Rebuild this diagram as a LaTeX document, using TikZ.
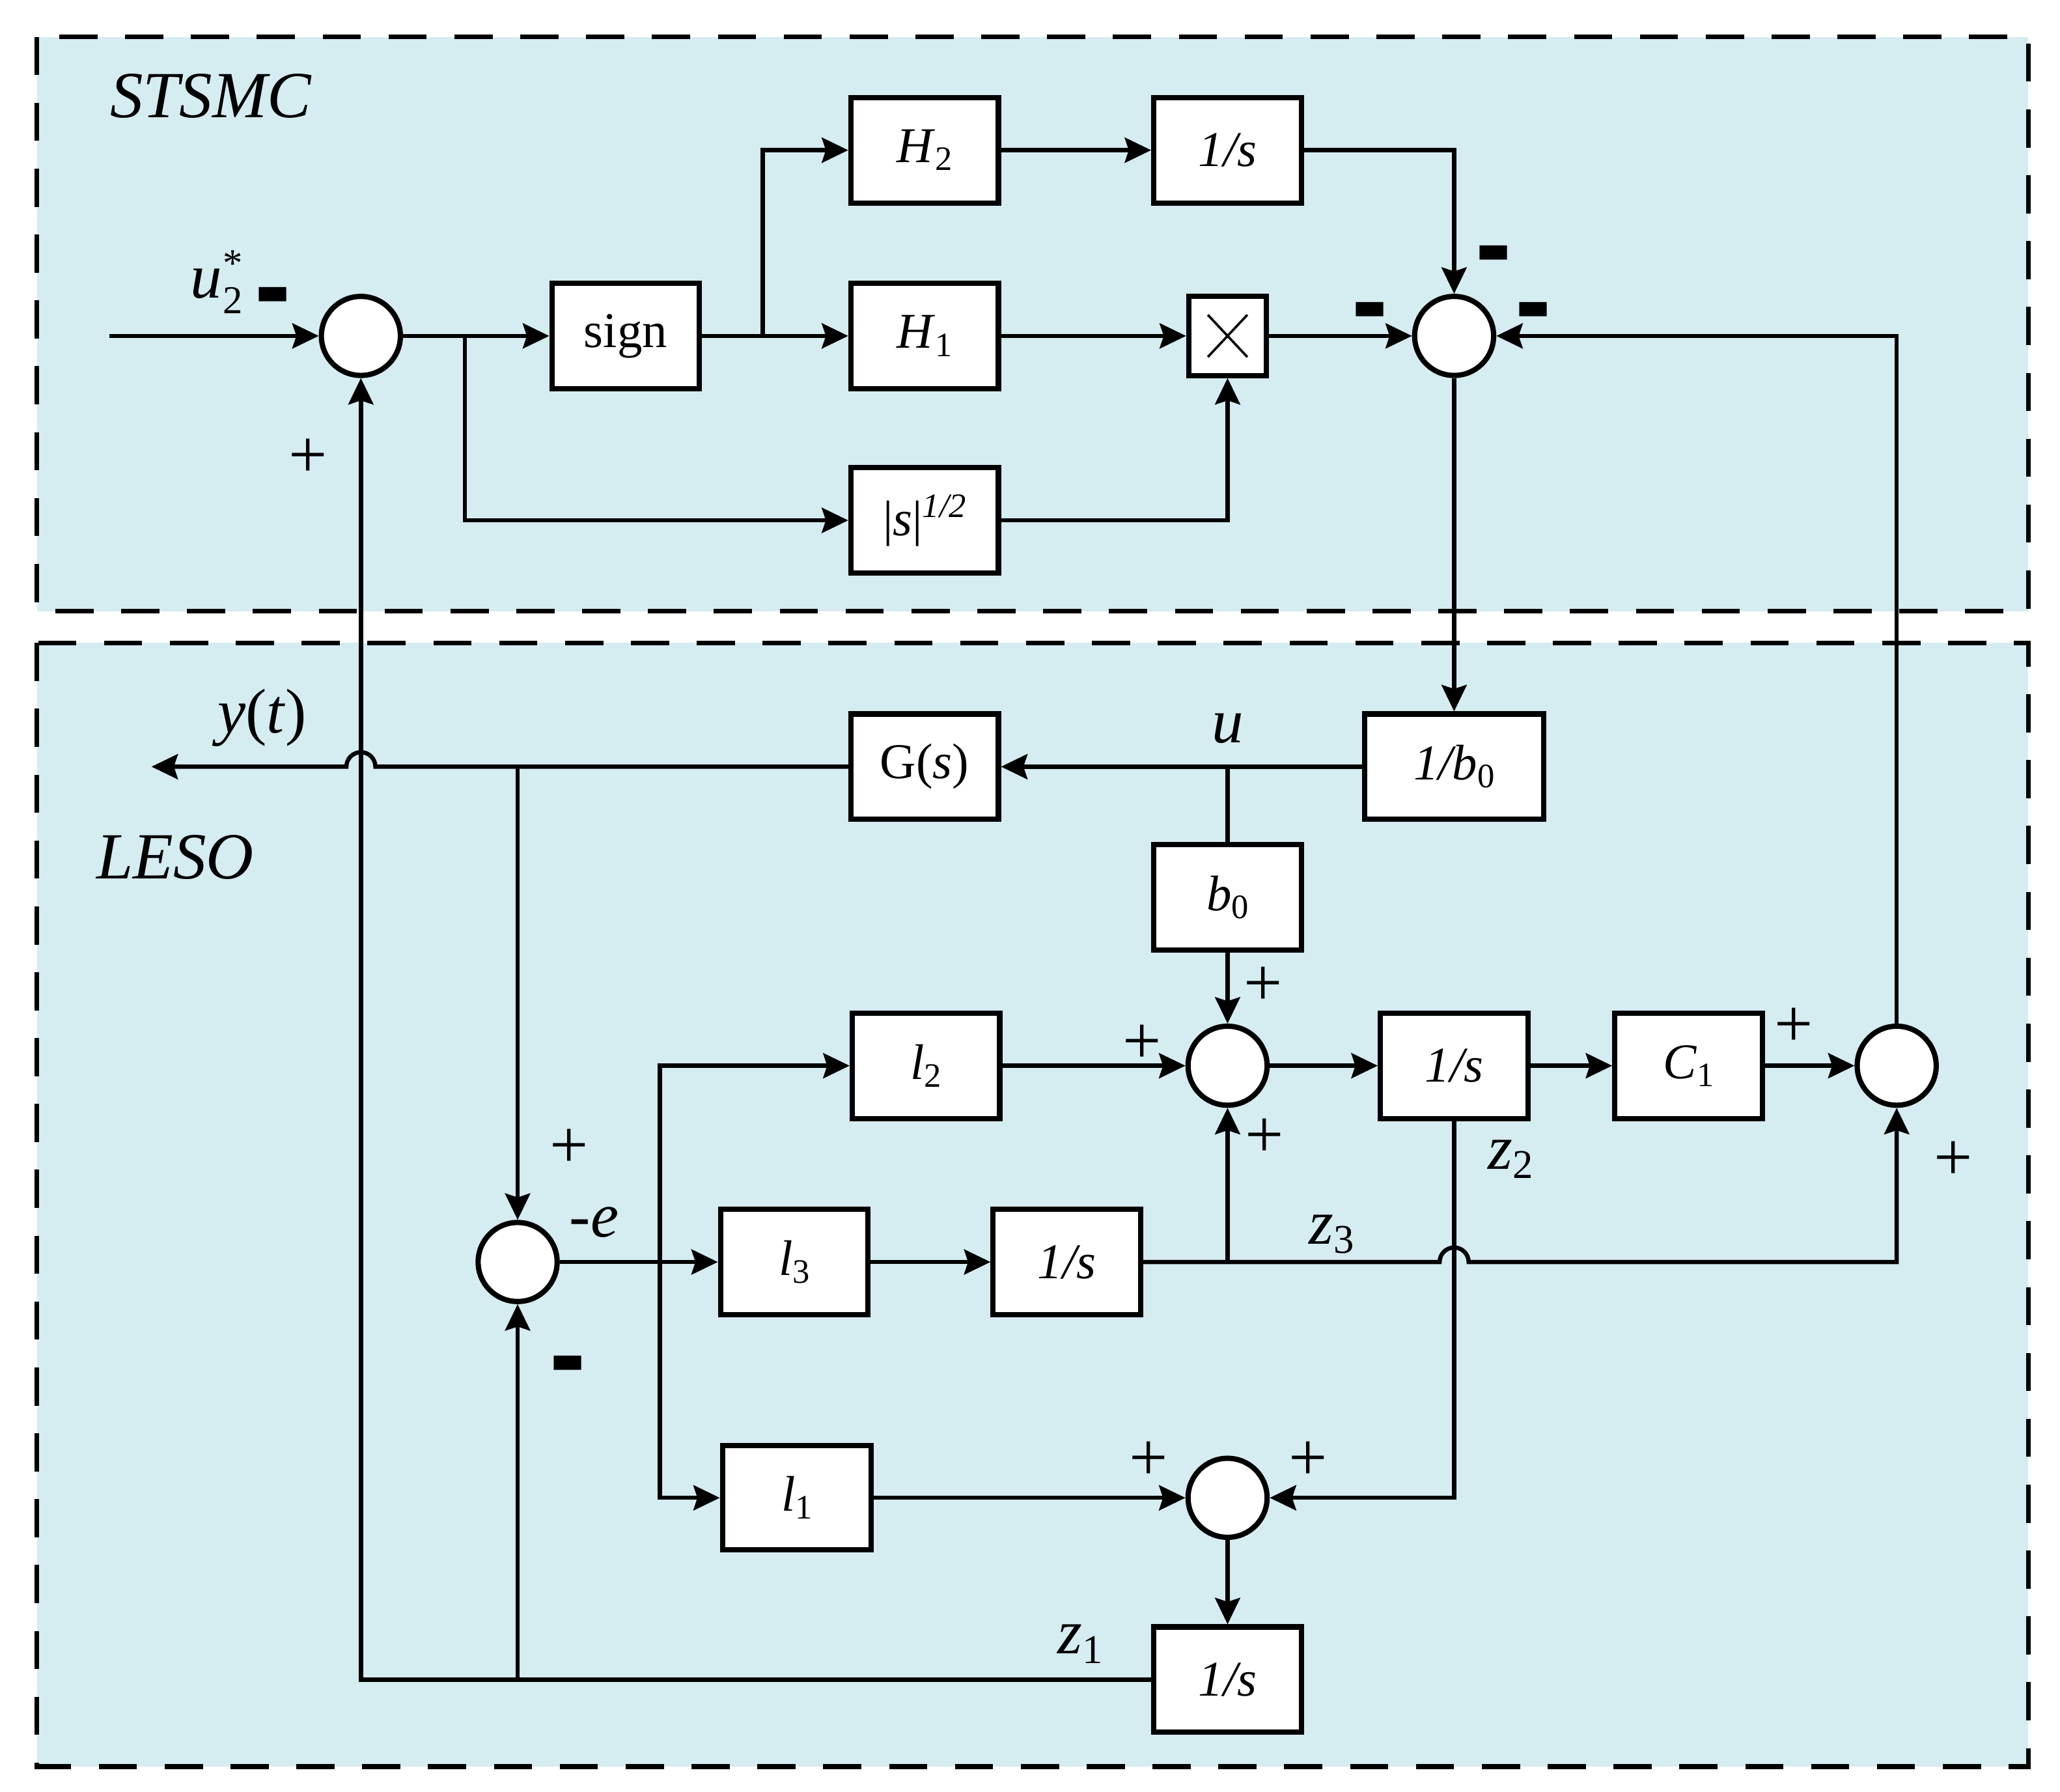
\documentclass[tikz,border=0pt]{standalone}
\usepackage{fontspec}
\setmainfont{Liberation Serif}
\newfontfamily\dvs{DejaVu Sans}
\usepackage{graphicx}
\usetikzlibrary{arrows.meta}
\definecolor{bgblue}{RGB}{213,236,241}
\newcommand{\sbs}[1]{\raisebox{-6pt}{\fontsize{26}{26}\selectfont #1}}
\newcommand{\lsbs}[1]{\raisebox{-7pt}{\fontsize{31}{31}\selectfont #1}}
\newcommand{\bmin}{{\dvs\bfseries\fontsize{40}{40}\selectfont\scalebox{1.7}[1.9]{-}}}
\begin{document}
\begin{tikzpicture}[x=1pt,y=-1pt,
  ln/.style={line width=3.2pt},
  arr/.style={ln,-{Stealth[length=20pt,width=19pt,inset=3pt]}},
  blk/.style={draw,fill=white,line width=4pt,minimum width=112pt,minimum height=80pt,inner sep=0pt,font=\fontsize{38}{40}\selectfont},
  sumc/.style={draw,fill=white,circle,line width=4pt,minimum size=60pt,inner sep=0pt},
  lbl/.style={inner sep=0pt,font=\fontsize{48}{50}\selectfont},
  sgnp/.style={inner sep=0pt,font=\fontsize{52}{52}\selectfont},
  sgnm/.style={inner sep=0pt},
  ttl/.style={inner sep=0pt,font=\fontsize{50}{60}\selectfont\itshape},
  region/.style={fill=bgblue,draw=black,line width=3.6pt,dash pattern=on 29pt off 21pt}
]
\useasboundingbox (0,0) rectangle (1564,1360.3);
% regions
\draw[region] (28,28) rectangle (1540,464);
\draw[region] (28,488) rectangle (1540,1341);
\node[ttl] (tstsmc) at (160,73) {STSMC};
\node[ttl] (tleso) at (133,651) {LESO};

% STSMC blocks
\node[sumc] (s1) at (274,255) {};
\node[blk] (sgn) at (475,255) {sign};
\node[blk] (h2) at (702,114) {\textit{H}\sbs{2}};
\node[blk] (h1) at (702,255) {\textit{H}\sbs{1}};
\node[blk] (sq) at (702,395) {|\textit{s}|\raisebox{14pt}{\fontsize{26}{26}\selectfont\itshape 1/2}};
\node[blk] (is1) at (932,114) {\textit{1/s}};
\node[draw,fill=white,line width=4pt,minimum width=59pt,minimum height=60pt,inner sep=0pt] (mul) at (932,255) {};
\draw[line width=1.8pt] ([shift={(-15,-16)}]mul.center) -- ([shift={(15,16)}]mul.center);
\draw[line width=1.8pt] ([shift={(15,-16)}]mul.center) -- ([shift={(-15,16)}]mul.center);
\node[sumc] (s2) at (1104,255) {};

% LESO blocks
\node[blk,minimum width=136pt] (ib0) at (1104,582) {\textit{1/b}\sbs{0}};
\node[blk] (gs) at (702,582) {G(\textit{s})};
\node[blk] (b0) at (932,681) {\textit{b}\sbs{0}};
\node[sumc] (s3) at (932,809) {};
\node[blk] (l2) at (703,809) {\textit{l}\sbs{2}};
\node[blk] (is2) at (1104,809) {\textit{1/s}};
\node[blk] (c1) at (1282,809) {\textit{C}\sbs{1}};
\node[sumc] (s4) at (1440,809) {};
\node[sumc] (se) at (393,958) {};
\node[blk] (l3) at (603,958) {\textit{l}\sbs{3}};
\node[blk] (is3) at (810,958) {\textit{1/s}};
\node[blk,minimum width=113pt,minimum height=79pt] (l1) at (605,1137) {\textit{l}\sbs{1}};
\node[sumc] (s5) at (932,1137) {};
\node[blk,minimum height=80pt] (is4) at (932,1275) {\textit{1/s}};

% free ends
\coordinate (uin) at (83,255);
\coordinate (yout) at (115,582);

% STSMC connectors
\draw[arr] (uin) -- (s1.west);
\draw[arr] (s1.east) -- (sgn.west);
\coordinate (bra) at (353,255);
\draw[arr] (bra) |- (sq.west);
\draw[arr] (sq.east) -| (mul.south);
\draw[arr] (sgn.east) -- (h1.west);
\coordinate (brb) at (579,255);
\draw[arr] (brb) |- (h2.west);
\draw[arr] (h2.east) -- (is1.west);
\draw[arr] (is1.east) -| (s2.north);
\draw[arr] (h1.east) -- (mul.west);
\draw[arr] (mul.east) -- (s2.west);
\draw[arr] (s2.south) -- (ib0.north);
\draw[arr] (s4.north) |- (s2.east);

% LESO connectors
\draw[arr] (ib0.west) -- (gs.east);
\draw[ln] (b0.north |- ib0.west) -- (b0.north);
\draw[arr] (b0.south) -- (s3.north);
\coordinate (j1) at (s1.south |- gs.west);
\draw[arr] (gs.west) -- ([xshift=11pt]j1) arc[start angle=0,end angle=180,radius=11pt] -- (yout);
\draw[arr] (se.north |- gs.west) -- (se.north);
\draw[arr] (se.east) -- (l3.west);
\coordinate (brc) at (501,958);
\draw[arr] (brc) |- (l2.west);
\draw[arr] (brc) |- (l1.west);
\draw[arr] (l2.east) -- (s3.west);
\draw[arr] (s3.east) -- (is2.west);
\draw[arr] (is2.east) -- (c1.west);
\draw[arr] (c1.east) -- (s4.west);
\draw[arr] (l3.east) -- (is3.west);
\coordinate (j2) at (is2.south |- is3.east);
\draw[arr] (is3.east) -- ([xshift=-11pt]j2) arc[start angle=180,end angle=0,radius=11pt] -- (s4.south |- is3.east) -- (s4.south);
\draw[arr] (s3.south |- is3.east) -- (s3.south);
\draw[arr] (is2.south) |- (s5.east);
\draw[arr] (l1.east) -- (s5.west);
\draw[arr] (s5.south) -- (is4.north);
\draw[arr] (is4.west) -| (s1.south);
\draw[arr] (se.south |- is4.west) -- (se.south);

% labels
\node[lbl,anchor=base east] (lu) at (169,226) {\textit{u}};
\node[inner sep=0pt,anchor=south west,font=\fontsize{30}{30}\selectfont] (lu2s) at (169,210) {*};
\node[inner sep=0pt,anchor=base west,font=\fontsize{30}{30}\selectfont] (lu2b) at (169,238) {2};
\node[lbl] (lyt) at (199,545) {\textit{y}(\textit{t})};
\node[lbl] (lu) at (932,553) {\textit{u}};
\node[lbl] (lz1) at (820,1248) {\textit{z}\lsbs{1}};
\node[lbl] (lz2) at (1147,880) {\textit{z}\lsbs{2}};
\node[lbl] (lz3) at (1011,937) {\textit{z}\lsbs{3}};
\node[lbl] (le) at (451,928) {-\textit{e}};

% signs
\node[sgnp] (p1) at (234,348) {+};
\node[sgnp] (p2) at (432,872) {+};
\node[sgnp] (p3) at (959,749) {+};
\node[sgnp] (p4) at (867,793) {+};
\node[sgnp] (p5) at (960,864) {+};
\node[sgnp] (p6) at (1362,780) {+};
\node[sgnp] (p7) at (1483,881) {+};
\node[sgnp] (p8) at (872,1109) {+};
\node[sgnp] (p9) at (993,1109) {+};
\node[sgnm] (m1) at (207,232) {\bmin};
\node[sgnm] (m2) at (1134,200) {\bmin};
\node[sgnm] (m3) at (1040,243) {\bmin};
\node[sgnm] (m4) at (1164,243) {\bmin};
\node[sgnm] (m5) at (431,1043) {\bmin};
\end{tikzpicture}
\end{document}
